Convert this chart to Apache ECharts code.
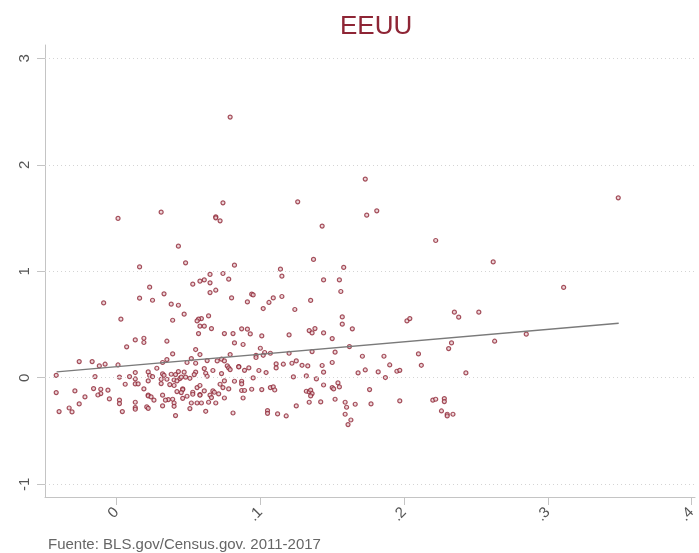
<!DOCTYPE html>
<html>
<head>
<meta charset="utf-8">
<script src="https://cdn.jsdelivr.net/npm/echarts@6/dist/echarts.min.js"></script>
<style>
html,body{margin:0;padding:0;background:#fff;}
#chart{width:699px;height:553px;}
</style>
</head>
<body>
<div id="chart"></div>
<script>
// x values of the scatter points
const xValues = [
0.079,0.173,0.349,0.126,0.074,0.031,0.181,0.174,0.001,0.069,0.069,0.072,0.143,0.222,0.043,0.137,
0.048,0.016,0.082,0.074,0.065,0.078,0.061,0.058,0.053,0.065,0.023,0.069,0.065,0.033,0.016,0.080,0.025,-0.009,0.038,0.043,
0.047,0.064,0.059,0.057,0.056,0.003,0.039,0.058,0.061,0.066,0.057,0.075,0.081,0.019,0.013,0.019,0.035,0.082,0.007,0.055,
0.114,0.158,0.115,0.144,0.155,0.156,0.094,0.095,0.091,0.109,0.115,0.106,0.135,0.102,0.124,0.157,0.157,0.164,0.202,0.204,
0.087,0.091,0.138,0.134,0.136,0.093,0.101,0.120,0.144,0.150,0.088,0.100,0.162,
0.262,0.311,0.235,0.238,0.252,0.285,0.263,0.233,0.231,
-0.026,-0.017,-0.012,-0.008,0.001,-0.042,0.032,0.035,0.039,0.058,0.052,0.049,0.055,0.063,0.070,0.073,0.075,0.079,0.077,0.078,
0.079,0.085,0.028,0.013,0.022,0.032,0.033,0.038,0.041,0.043,0.047,0.055,0.054,0.061,0.067,0.062,0.063,0.073,-0.015,0.002,
0.009,0.023,0.025,0.022,0.013,0.031,0.035,0.044,0.045,0.048,0.051,0.040,0.042,0.075,0.082,0.013,0.015,0.006,0.031,0.037,
0.040,0.072,0.078,0.056,0.058,0.074,0.046,0.046,0.042,0.045,0.053,0.053,0.061,0.058,0.058,0.067,0.068,0.065,0.071,0.066,
0.075,0.049,0.046,0.019,0.022,0.022,0.024,0.026,0.032,0.036,0.034,0.039,-0.016,-0.011,-0.006,-0.029,-0.042,-0.011,-0.013,-0.022,
-0.005,0.002,0.002,-0.026,0.013,0.040,0.040,0.032,0.021,0.022,0.013,0.013,0.004,-0.033,-0.040,-0.031,0.041,0.051,0.052,0.056,
0.059,0.064,0.069,0.062,0.081,
0.097,0.097,0.103,0.102,0.107,0.120,0.136,0.152,0.171,0.186,0.210,0.212,0.190,0.195,0.197,0.182,0.187,0.173,0.168,0.150,
0.143,0.144,0.133,0.129,0.125,0.122,0.116,0.111,0.111,0.104,0.099,0.092,0.089,0.085,0.095,0.123,0.132,0.139,0.087,0.087,
0.087,0.089,0.088,0.094,0.101,0.107,0.109,0.110,0.132,0.134,0.135,0.136,0.135,0.134,0.142,0.125,0.144,0.150,0.151,0.154,
0.155,0.152,0.159,0.160,0.166,0.159,0.163,0.161,0.176,0.177,0.197,0.105,0.105,0.112,0.118,0.220,0.222,
0.243,0.228,0.228,0.226,0.230,0.230,0.234
];
// y values of the scatter points (same order)
const yValues = [
2.448,1.866,1.690,1.652,1.643,1.555,1.568,1.527,1.496,1.511,1.502,1.474,1.424,1.289,1.236,1.111,
1.079,1.041,1.057,0.979,0.970,0.926,0.919,0.907,0.879,0.891,0.851,0.822,0.800,0.788,0.747,0.750,0.728,0.703,0.691,0.681,
0.597,0.581,0.556,0.550,0.534,0.550,0.540,0.484,0.484,0.462,0.415,0.415,0.415,0.371,0.355,0.331,0.343,0.327,0.290,0.265,
1.020,1.036,0.954,0.919,0.919,0.810,0.785,0.778,0.712,0.750,0.763,0.707,0.726,0.650,0.641,0.571,0.503,0.459,0.534,0.556,
0.459,0.456,0.462,0.443,0.421,0.412,0.393,0.402,0.421,0.368,0.312,0.277,0.293,
1.088,0.848,0.616,0.569,0.616,0.409,0.343,0.327,0.274,
0.152,0.152,0.111,0.127,0.120,0.023,0.143,0.171,0.224,0.218,0.180,0.143,0.136,0.161,0.158,0.174,0.158,0.218,0.111,0.092,
0.077,0.105,0.089,0.049,0.055,0.036,0.023,0.033,0.030,0.058,0.052,0.052,0.030,0.086,0.068,0.042,0.014,0.039,0.011,0.005,
0.011,0.021,0.011,-0.030,-0.011,-0.014,-0.014,-0.008,0.005,0.005,-0.005,-0.021,-0.030,-0.030,-0.033,-0.058,-0.058,-0.061,-0.055,-0.064,
-0.073,-0.061,-0.105,-0.092,-0.073,-0.092,-0.105,-0.111,-0.130,-0.139,-0.136,-0.155,-0.124,-0.158,-0.164,-0.124,-0.136,-0.164,-0.152,-0.186,
-0.190,-0.174,-0.193,-0.105,-0.162,-0.171,-0.180,-0.211,-0.164,-0.205,-0.211,-0.202,-0.102,-0.108,-0.117,-0.124,-0.139,-0.149,-0.162,-0.180,
-0.199,-0.211,-0.243,-0.246,-0.230,-0.237,-0.268,-0.265,-0.274,-0.287,-0.280,-0.296,-0.318,-0.284,-0.318,-0.321,-0.355,-0.290,-0.237,-0.237,
-0.237,-0.230,-0.237,-0.315,-0.331,
0.211,0.190,0.237,0.211,0.230,0.230,0.246,0.240,0.202,0.202,0.224,0.117,0.120,0.061,0.070,0.055,0.002,0.073,0.045,0.143,
0.115,0.052,0.111,0.117,0.158,0.136,0.127,0.130,0.092,0.049,0.068,0.092,0.070,0.102,-0.002,0.008,0.017,-0.011,-0.033,-0.058,
-0.120,-0.120,-0.190,-0.108,-0.111,-0.092,-0.086,-0.115,-0.127,-0.133,-0.117,-0.149,-0.171,-0.230,-0.227,-0.265,-0.068,-0.092,-0.105,-0.049,
-0.086,-0.202,-0.230,-0.277,-0.249,-0.343,-0.397,-0.440,-0.111,-0.246,-0.218,-0.308,-0.334,-0.340,-0.359,-0.211,-0.202,
0.045,-0.196,-0.224,-0.312,-0.343,-0.359,-0.343
];
// fitted line end points
const fitX = [-0.0417, 0.3493];
const fitY = [0.055, 0.512];
// axis ticks and labels
const xTicks = [0, 0.1, 0.2, 0.3, 0.4];
const xTickLabels = ['0', '.1', '.2', '.3', '.4'];
const yTicks = [-1, 0, 1, 2, 3];
const yTickLabels = ['-1', '0', '1', '2', '3'];
const titleText = 'EEUU';
const sourceText = 'Fuente: BLS.gov/Census.gov. 2011-2017';

const points = xValues.map((x, i) => [x, yValues[i]]);
const fitData = fitX.map((x, i) => [x, fitY[i]]);

const axisGray = '#c4c4c4';
const labelGray = '#555555';
const red = '#8e2535';

const chart = echarts.init(document.getElementById('chart'), null, {renderer: 'canvas'});
chart.setOption({
  animation: false,
  backgroundColor: '#ffffff',
  title: {
    text: titleText,
    left: 340,
    top: 14,
    padding: 0,
    textStyle: {color: red, fontSize: 26, fontWeight: 'normal', fontFamily: 'Liberation Sans, Arial, sans-serif'}
  },
  graphic: [{
    type: 'text',
    left: 48,
    top: 537,
    style: {text: sourceText, fill: '#666666', fontSize: 15, fontFamily: 'Liberation Sans, Arial, sans-serif'}
  }],
  grid: {left: 45, right: 1, top: 45, bottom: 56, containLabel: false},
  xAxis: {
    type: 'value',
    min: -0.0498,
    max: 0.4024,
    axisLine: {show: true, onZero: false, lineStyle: {color: axisGray, width: 1}},
    axisTick: {show: true, length: 8, customValues: xTicks, lineStyle: {color: axisGray}},
    axisLabel: {
      customValues: xTicks,
      rotate: 45,
      margin: 13,
      fontSize: 15,
      color: labelGray,
      fontFamily: 'Liberation Sans, Arial, sans-serif',
      formatter: function (v) {
        const i = xTicks.findIndex(t => Math.abs(t - v) < 1e-9);
        return i >= 0 ? xTickLabels[i] : '';
      }
    },
    splitLine: {show: false}
  },
  yAxis: {
    type: 'value',
    min: -1.12,
    max: 3.125,
    axisLine: {show: true, onZero: false, lineStyle: {color: axisGray, width: 1}},
    axisTick: {show: true, length: 8, customValues: yTicks, lineStyle: {color: axisGray}},
    axisLabel: {
      customValues: yTicks,
      rotate: 90,
      margin: 13,
      fontSize: 15,
      color: labelGray,
      fontFamily: 'Liberation Sans, Arial, sans-serif',
      formatter: function (v) {
        const i = yTicks.findIndex(t => Math.abs(t - v) < 1e-9);
        return i >= 0 ? yTickLabels[i] : '';
      }
    },
    splitLine: {show: false}
  },
  series: [
    {
      type: 'scatter',
      data: points,
      symbol: 'circle',
      symbolSize: 4,
      itemStyle: {color: '#e9ccd1', borderColor: red, borderWidth: 1.2},
      markLine: {
        silent: true,
        symbol: ['none', 'none'],
        label: {show: false},
        lineStyle: {color: '#d4d4d4', width: 1, type: [1, 3]},
        data: yTicks.map(v => ({yAxis: v}))
      },
      z: 3
    },
    {
      type: 'line',
      data: fitData,
      showSymbol: false,
      symbol: 'none',
      lineStyle: {color: '#7a7a7a', width: 1.3},
      z: 4
    }
  ]
});
</script>
</body>
</html>
